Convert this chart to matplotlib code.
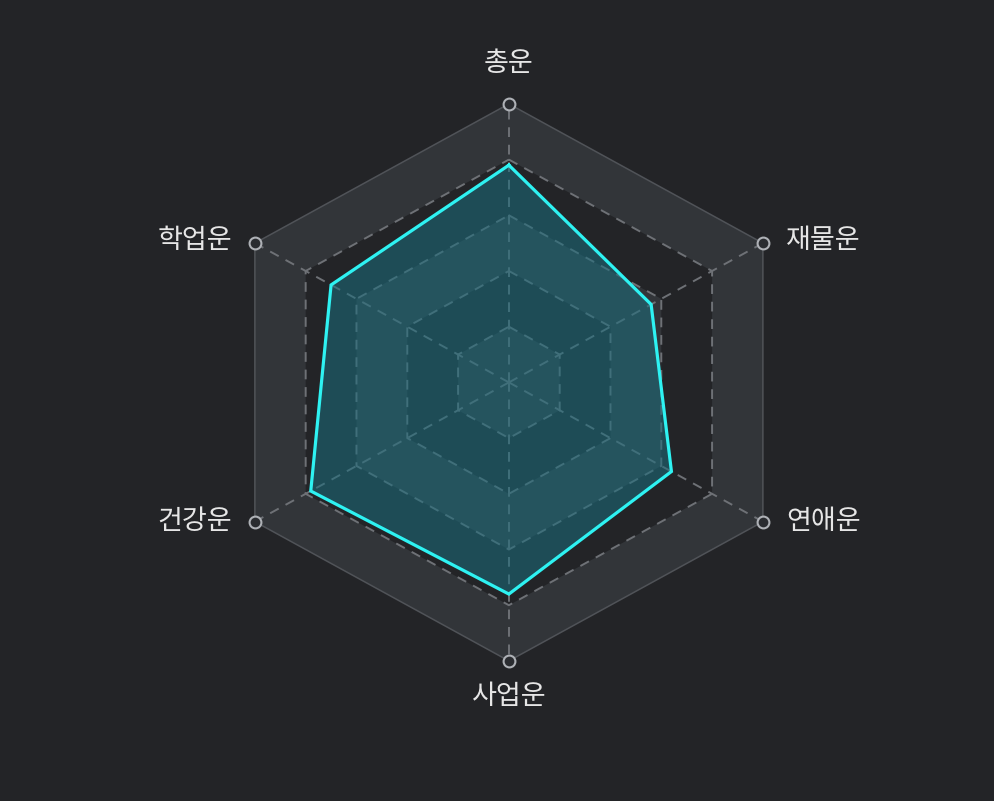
import matplotlib.pyplot as plt
import numpy as np

plt.rcParams['font.family'] = ['Noto Sans CJK KR', 'DejaVu Sans']

# data
labels = ['총운', '재물운', '연애운', '사업운', '건강운', '학업운']
values = [78, 56, 64, 76, 78, 70]
levels = [20, 40, 60, 80, 100]
max_value = 100

bg = '#232427'
band_light = '#323539'
grid_col = '#6e7176'
line_col = '#2ef2f2'
fill_col = '#1b6e7e'

n = len(labels)
theta = np.arange(n) * 2 * np.pi / n


def xy(r):
    r = np.asarray(r, dtype=float)
    return r * np.sin(theta), r * np.cos(theta)


def closed(x, y):
    return np.append(x, x[0]), np.append(y, y[0])


fig = plt.figure(figsize=(9.94, 8.01), dpi=100, facecolor=bg)
ax = fig.add_axes([0, 0, 1, 1])
ax.set_facecolor(bg)
# slightly wider horizontally than vertically, as in the original
ax.set_xlim(-173.5, 165.4)
ax.set_ylim(-150.3, 137.3)
ax.axis('off')

# split areas, outer to inner, alternating
for i, lv in enumerate(sorted(levels, reverse=True)):
    x, y = xy([lv] * n)
    c = band_light if i % 2 == 0 else bg
    ax.fill(x, y, color=c, lw=0, zorder=1 + i * 0.01)

# dashed inner rings
for lv in levels[:-1]:
    x, y = closed(*xy([lv] * n))
    ax.plot(x, y, color=grid_col, lw=1.4, ls=(0, (5, 4)), zorder=2)

# outer ring solid
x, y = closed(*xy([max_value] * n))
ax.plot(x, y, color='#505358', lw=1.1, zorder=2)

# spokes
ox, oy = xy([max_value] * n)
for k in range(n):
    ax.plot([0, ox[k]], [0, oy[k]], color=grid_col, lw=1.4, ls=(0, (5, 4)), zorder=2)

# data area
vx, vy = closed(*xy(values))
ax.fill(vx, vy, color=fill_col, alpha=0.55, lw=0, zorder=3)
ax.plot(vx, vy, color=line_col, lw=2.3, solid_joinstyle='miter', zorder=4)

# vertex markers
ax.plot(ox, oy, 'o', ms=8.5, mfc='#2a2c30', mec='#aeb1b6', mew=1.5, zorder=5)

# labels
offsets = [(0, 40, 'center'), (23, 3, 'left'), (23, 0, 'left'),
           (0, -36, 'center'), (-23, 0, 'right'), (-23, 3, 'right')]
for k, lab in enumerate(labels):
    dx, dy, ha = offsets[k]
    ax.annotate(lab, (ox[k], oy[k]), xytext=(dx, dy), textcoords='offset pixels',
                ha=ha, va='center', fontsize=19.5, color='#e6e6e6', zorder=6)

fig.savefig('out.png', dpi=100, facecolor=bg)
